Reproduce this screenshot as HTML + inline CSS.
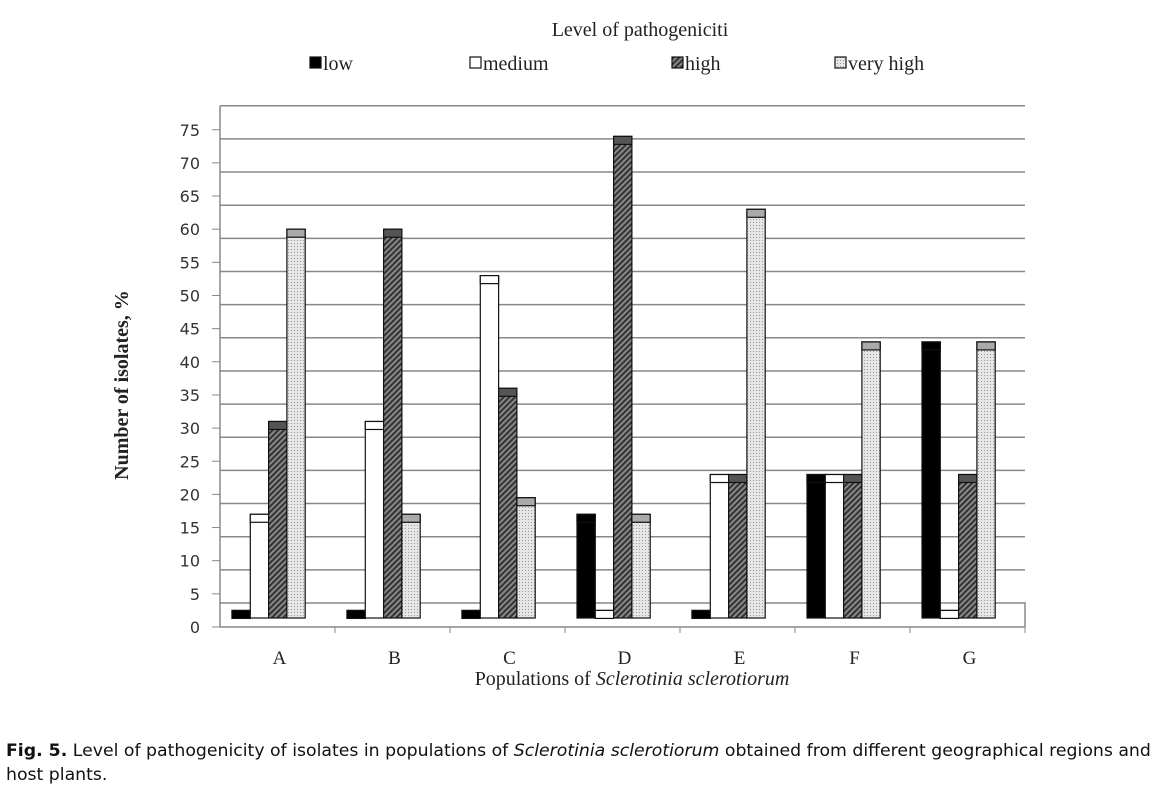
<!DOCTYPE html>
<html><head><meta charset="utf-8"><style>
body{margin:0;background:#fff;}
svg{display:block;}
.serif{font-family:"Liberation Serif",serif;}
.sans{font-family:"DejaVu Sans","Liberation Sans",sans-serif;}
</style></head><body>
<svg id="chart" width="1172" height="795" viewBox="0 0 1172 795" xmlns="http://www.w3.org/2000/svg">
<defs>
<pattern id="hatch" width="4" height="4" patternUnits="userSpaceOnUse" patternTransform="rotate(45)">
<rect width="4" height="4" fill="#888"/><rect width="2" height="4" fill="#333"/></pattern>
<pattern id="dots" width="3" height="3" patternUnits="userSpaceOnUse">
<rect width="3" height="3" fill="#e6e6e6"/><rect width="1" height="1" fill="#999"/></pattern>
</defs>
<text class="serif" x="640" y="36" font-size="20" text-anchor="middle" fill="#222">Level of pathogeniciti</text>
<g id="legend"></g>
<g id="grid"></g>
<g id="axis"></g>
<g id="bars"></g>
<text class="serif" transform="translate(128,385) rotate(-90)" font-size="20" font-weight="bold" text-anchor="middle" fill="#222">Number of isolates, %</text>
<text class="serif" x="632" y="685" font-size="20" text-anchor="middle" fill="#222">Populations of <tspan font-style="italic">Sclerotinia sclerotiorum</tspan></text>
<text class="sans" x="6" y="756" font-size="17.3" fill="#111"><tspan font-weight="bold">Fig. 5.</tspan> Level of pathogenicity of isolates in populations of <tspan font-style="italic">Sclerotinia sclerotiorum</tspan> obtained from different geographical regions and</text>
<text class="sans" x="6" y="780" font-size="17.3" fill="#111">host plants.</text>
</svg>
<script>
const categories=["A","B","C","D","E","F","G"];
const low=[2.5,2.5,2.5,17,2.5,23,43];
const medium=[17,31,53,2.5,23,23,2.5];
const high=[31,60,36,74,23,23,23];
const veryHigh=[60,17,19.5,17,63,43,43];
const yTicks=[0,5,10,15,20,25,30,35,40,45,50,55,60,65,70,75];
const seriesNames=["low","medium","high","very high"];
const NS="http://www.w3.org/2000/svg";
function mk(tag,attrs,parent,text){const e=document.createElementNS(NS,tag);for(const k in attrs)e.setAttribute(k,attrs[k]);if(text!==undefined)e.textContent=text;parent.appendChild(e);return e;}
const y=v=>627-6.63*v; const yg=v=>603-6.63*v;
const x0=220,x1=1025,gw=(x1-x0)/categories.length;
const grid=document.getElementById('grid'),axis=document.getElementById('axis'),bars=document.getElementById('bars'),legend=document.getElementById('legend');
yTicks.forEach(v=>{
 if(v>0){const l=mk('line',{x1:x0,x2:x1,y1:yg(v),y2:yg(v),stroke:'#888','stroke-width':1.5},grid);
 }
 const t=mk('text',{x:200,y:y(v)+6,'font-size':16,'text-anchor':'end',fill:'#333',class:'sans'},axis,String(v));
 
 mk('line',{x1:212,x2:x0,y1:y(v),y2:y(v),stroke:'#888'},axis);
});
mk('line',{x1:x0,x2:x0,y1:106,y2:627,stroke:'#888','stroke-width':1.5},axis);
mk('line',{x1:x0,x2:x1,y1:627,y2:627,stroke:'#888','stroke-width':1.5},axis);
const floor=mk('polyline',{points:`${x0},603 ${x1},603 ${x1},627`,fill:'none',stroke:'#888','stroke-width':1.5},grid);

const styles=[{f:'#000',c:'#000'},{f:'#fff',c:'#fff'},{f:'url(#hatch)',c:'#555'},{f:'url(#dots)',c:'#aaa'}];
const series=[low,medium,high,veryHigh];
categories.forEach((c,i)=>{
 const gx=x0+i*gw;
 mk('line',{x1:gx+gw,x2:gx+gw,y1:627,y2:633,stroke:'#888'},axis);
 const lb=mk('text',{x:gx+gw/2+2,y:664,'font-size':19,'text-anchor':'middle',fill:'#222',class:'serif'},axis,c);
 
 series.forEach((s,k)=>{
  const bx=gx+12+k*18.3,top=y(s[i]);
  const r=mk('rect',{x:bx,y:top,width:18.3,height:618-top,fill:styles[k].f,stroke:'#111','stroke-width':1.2},bars);
  
  
  mk('rect',{x:bx,y:top,width:18.3,height:8,fill:styles[k].c,stroke:'#111','stroke-width':1.2},bars);
 });
});
const lx=[310,470,672,835];
seriesNames.forEach((n,k)=>{
 const g=mk('g',{},legend);
 
 
 mk('rect',{x:lx[k],y:57,width:11,height:11,fill:styles[k].f,stroke:'#111','stroke-width':1.2},g);
 mk('text',{x:lx[k]+13,y:70,'font-size':20,fill:'#222',class:'serif'},g,n);
});
</script>
</body></html>
